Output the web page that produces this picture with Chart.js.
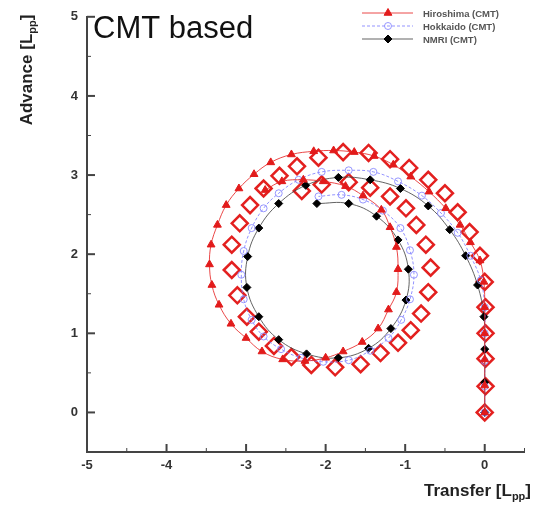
<!DOCTYPE html>
<html>
<head>
<meta charset="utf-8">
<script src="https://cdn.jsdelivr.net/npm/chart.js@4"></script>
<style>
  html, body { margin: 0; padding: 0; background: #fff; }
  #wrap { width: 535px; height: 505px; }
</style>
</head>
<body>
<div id="wrap"><canvas id="spiralChart" width="535" height="505"></canvas></div>
<script>
// series values (transfer / advance in Lpp)
const hiroX = [0, 0, 0, 0, 0, -0.01, -0.06, -0.18, -0.31, -0.49, -0.70, -0.93, -1.15, -1.39, -1.64, -1.90, -2.15, -2.43, -2.69, -2.90, -3.09, -3.25, -3.36, -3.44, -3.46, -3.43, -3.34, -3.19, -3.00, -2.80, -2.54, -2.26, -2.00, -1.78, -1.54, -1.34, -1.21, -1.11, -1.09, -1.11, -1.19, -1.30, -1.53, -1.75, -2.03, -2.28, -2.55, -2.76];
const hiroY = [0, 0.34, 0.67, 1.00, 1.33, 1.65, 1.92, 2.15, 2.37, 2.58, 2.79, 2.98, 3.13, 3.24, 3.29, 3.31, 3.30, 3.26, 3.16, 3.01, 2.83, 2.62, 2.37, 2.12, 1.87, 1.61, 1.36, 1.12, 0.94, 0.77, 0.67, 0.65, 0.69, 0.77, 0.89, 1.06, 1.30, 1.52, 1.81, 2.09, 2.34, 2.56, 2.74, 2.86, 2.92, 2.94, 2.92, 2.81];

const hokX = [0, 0, 0, 0, 0, -0.05, -0.18, -0.34, -0.55, -0.79, -1.09, -1.40, -1.71, -2.05, -2.34, -2.59, -2.78, -2.93, -3.03, -3.06, -3.03, -2.93, -2.78, -2.56, -2.31, -2.03, -1.71, -1.44, -1.21, -1.05, -0.94, -0.89, -0.94, -1.06, -1.28, -1.53, -1.80, -2.09];
const hokY = [0, 0.33, 0.65, 1.00, 1.33, 1.67, 1.98, 2.27, 2.52, 2.74, 2.92, 3.04, 3.06, 3.04, 2.94, 2.77, 2.58, 2.33, 2.04, 1.74, 1.43, 1.17, 0.96, 0.80, 0.69, 0.64, 0.66, 0.78, 0.94, 1.17, 1.43, 1.74, 2.05, 2.33, 2.55, 2.69, 2.75, 2.73];

const nmriX = [0, 0, 0, -0.01, -0.09, -0.24, -0.44, -0.71, -1.06, -1.44, -1.84, -2.25, -2.59, -2.84, -2.98, -2.99, -2.84, -2.59, -2.24, -1.84, -1.46, -1.18, -0.99, -0.96, -1.09, -1.36, -1.71, -2.11];
const nmriY = [0, 0.38, 0.80, 1.21, 1.61, 1.98, 2.31, 2.61, 2.83, 2.94, 2.97, 2.87, 2.64, 2.33, 1.97, 1.58, 1.21, 0.92, 0.74, 0.69, 0.81, 1.06, 1.42, 1.81, 2.18, 2.48, 2.64, 2.64];

const expX = [0, 0.01, 0.01, 0.01, 0.01, 0, -0.06, -0.19, -0.34, -0.50, -0.71, -0.95, -1.19, -1.46, -1.78, -2.09, -2.36, -2.58, -2.78, -2.95, -3.08, -3.18, -3.18, -3.11, -2.99, -2.84, -2.65, -2.43, -2.18, -1.88, -1.56, -1.31, -1.09, -0.93, -0.80, -0.71, -0.68, -0.74, -0.86, -0.99, -1.19, -1.44, -1.71, -2.05, -2.30];
const expY = [0, 0.33, 0.68, 1.00, 1.33, 1.65, 1.98, 2.28, 2.53, 2.77, 2.94, 3.09, 3.20, 3.28, 3.29, 3.22, 3.11, 2.99, 2.83, 2.62, 2.39, 2.12, 1.80, 1.48, 1.21, 1.02, 0.84, 0.70, 0.60, 0.57, 0.61, 0.75, 0.88, 1.04, 1.25, 1.52, 1.83, 2.12, 2.37, 2.58, 2.73, 2.84, 2.91, 2.88, 2.80];

const seriesNames = ['Hiroshima (CMT)', 'Hokkaido (CMT)', 'NMRI (CMT)', 'Experiment'];
const xTicks = [-5, -4, -3, -2, -1, 0];
const yTicks = [0, 1, 2, 3, 4, 5];
const xMinor = [-4.5, -3.5, -2.5, -1.5, -0.5, 0.5];
const yMinor = [0.5, 1.5, 2.5, 3.5, 4.5];

function pts(xs, ys) {
    return xs.map(function (x, i) { return { x: x, y: ys[i] }; });
}

// inward ticks, legend, and the text with subscripts
const decorPlugin = {
    id: 'decor',
    afterDraw: function (chart) {
        const ctx = chart.ctx;
        const xs = chart.scales.x;
        const ys = chart.scales.y;
        const area = chart.chartArea;
        ctx.save();
        ctx.strokeStyle = '#444';
        ctx.lineWidth = 2;
        xTicks.forEach(function (v) {
            const px = xs.getPixelForValue(v);
            ctx.beginPath(); ctx.moveTo(px, area.bottom); ctx.lineTo(px, area.bottom - 8); ctx.stroke();
        });
        yTicks.forEach(function (v) {
            const py = ys.getPixelForValue(v);
            ctx.beginPath(); ctx.moveTo(area.left, py); ctx.lineTo(area.left + 8, py); ctx.stroke();
        });
        ctx.lineWidth = 1;
        xMinor.forEach(function (v) {
            const px = xs.getPixelForValue(v);
            ctx.beginPath(); ctx.moveTo(px, area.bottom); ctx.lineTo(px, area.bottom - 4); ctx.stroke();
        });
        yMinor.forEach(function (v) {
            const py = ys.getPixelForValue(v);
            ctx.beginPath(); ctx.moveTo(area.left, py); ctx.lineTo(area.left + 4, py); ctx.stroke();
        });

        // title inside the plot
        ctx.fillStyle = '#111';
        ctx.font = '31px "Liberation Sans", Arial, sans-serif';
        ctx.textAlign = 'left';
        ctx.textBaseline = 'alphabetic';
        ctx.fillText('CMT based', 93, 38);

        // legend
        for (let i = 0; i < 3; i++) {
            const ds = chart.data.datasets[i];
            const ly = 13 + i * 13;
            ctx.save();
            ctx.strokeStyle = ds.borderColor;
            ctx.lineWidth = 1;
            ctx.setLineDash(ds.borderDash || []);
            ctx.beginPath(); ctx.moveTo(362, ly); ctx.lineTo(413, ly); ctx.stroke();
            ctx.restore();
            ctx.save();
            ctx.fillStyle = ds.pointBackgroundColor;
            ctx.strokeStyle = ds.pointBorderColor;
            ctx.lineWidth = ds.pointBorderWidth || 1;
            Chart.helpers.drawPoint(ctx, {
                pointStyle: ds.pointStyle,
                radius: ds.pointRadius,
                borderWidth: ds.pointBorderWidth || 1,
                rotation: 0
            }, 388, ly);
            ctx.restore();
            ctx.fillStyle = '#555';
            ctx.font = 'bold 9.5px "Liberation Sans", Arial, sans-serif';
            ctx.textBaseline = 'middle';
            ctx.fillText(seriesNames[i], 423, ly + 1);
        }

        // axis titles with subscript
        function subTitle(main, sub, x, y, align) {
            ctx.font = 'bold 17px "Liberation Sans", Arial, sans-serif';
            const w1 = ctx.measureText(main).width;
            ctx.font = 'bold 11px "Liberation Sans", Arial, sans-serif';
            const w2 = ctx.measureText(sub).width;
            ctx.font = 'bold 17px "Liberation Sans", Arial, sans-serif';
            const w3 = ctx.measureText(']').width;
            const total = w1 + w2 + w3;
            let sx = align === 'right' ? x - total : x - total / 2;
            ctx.textAlign = 'left';
            ctx.textBaseline = 'alphabetic';
            ctx.fillStyle = '#222';
            ctx.fillText(main, sx, y);
            ctx.font = 'bold 11px "Liberation Sans", Arial, sans-serif';
            ctx.fillText(sub, sx + w1, y + 4);
            ctx.font = 'bold 17px "Liberation Sans", Arial, sans-serif';
            ctx.fillText(']', sx + w1 + w2, y);
        }
        subTitle('Transfer [L', 'pp', 531, 496, 'right');
        ctx.save();
        ctx.translate(32, 70);
        ctx.rotate(-Math.PI / 2);
        subTitle('Advance [L', 'pp', 0, 0, 'center');
        ctx.restore();
        ctx.restore();
    }
};

const spiralCtx = document.getElementById('spiralChart').getContext('2d');
const spiralChart = new Chart(spiralCtx, {
    type: 'scatter',
    data: {
        datasets: [{
            label: seriesNames[0],
            data: pts(hiroX, hiroY),
            showLine: true,
            tension: 0.4,
            borderColor: 'rgba(230, 40, 40, 0.85)',
            borderWidth: 1,
            pointStyle: 'triangle',
            pointRadius: 4.5,
            pointBackgroundColor: '#e21b1b',
            pointBorderColor: '#e21b1b',
            pointBorderWidth: 1
        }, {
            label: seriesNames[1],
            data: pts(hokX, hokY),
            showLine: true,
            tension: 0.4,
            borderColor: 'rgba(120, 120, 255, 0.8)',
            borderWidth: 1,
            borderDash: [3, 2],
            pointStyle: 'circle',
            pointRadius: 3.5,
            pointBackgroundColor: 'rgba(255, 255, 255, 0)',
            pointBorderColor: 'rgba(140, 140, 255, 0.9)',
            pointBorderWidth: 1
        }, {
            label: seriesNames[2],
            data: pts(nmriX, nmriY),
            showLine: true,
            tension: 0.4,
            borderColor: 'rgba(60, 60, 60, 0.8)',
            borderWidth: 1,
            pointStyle: 'rectRot',
            pointRadius: 4,
            pointBackgroundColor: '#000',
            pointBorderColor: '#000',
            pointBorderWidth: 1
        }, {
            label: seriesNames[3],
            data: pts(expX, expY),
            showLine: false,
            pointStyle: 'rectRot',
            pointRadius: 8,
            pointBackgroundColor: 'rgba(255, 255, 255, 0)',
            pointBorderColor: '#e3201f',
            pointBorderWidth: 2.5
        }]
    },
    plugins: [decorPlugin],
    options: {
        responsive: false,
        animation: false,
        layout: { padding: { left: 0, right: 7, top: 10, bottom: 0 } },
        plugins: {
            legend: { display: false },
            tooltip: { enabled: false }
        },
        scales: {
            x: {
                type: 'linear',
                min: -5,
                max: 0.5,
                afterBuildTicks: function (axis) { axis.ticks = xTicks.map(function (v) { return { value: v }; }); },
                afterFit: function (axis) { axis.height = 53; },
                grid: { display: false, drawTicks: false },
                border: { display: true, color: '#444', width: 2 },
                ticks: {
                    padding: 6,
                    color: '#333',
                    font: { family: '"Liberation Sans", Arial, sans-serif', size: 13, weight: 'bold' }
                }
            },
            y: {
                type: 'linear',
                min: -0.5,
                max: 5,
                afterBuildTicks: function (axis) { axis.ticks = yTicks.map(function (v) { return { value: v }; }); },
                afterFit: function (axis) { axis.width = 87; },
                grid: { display: false, drawTicks: false },
                border: { display: true, color: '#444', width: 2 },
                ticks: {
                    padding: 9,
                    color: '#333',
                    font: { family: '"Liberation Sans", Arial, sans-serif', size: 13, weight: 'bold' }
                }
            }
        }
    }
});
</script>
</body>
</html>
